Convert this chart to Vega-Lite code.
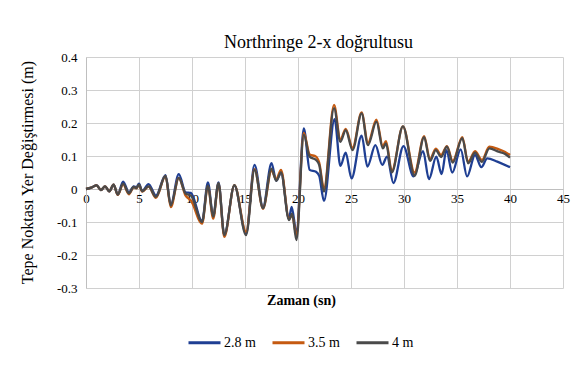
{
  "$schema": "https://vega.github.io/schema/vega-lite/v6.json",
  "autosize": {"type": "none"},
  "width": 477,
  "height": 231,
  "padding": {"left": 86, "top": 57, "right": 19, "bottom": 78},
  "background": "white",
  "title": {
    "text": "Northringe 2-x doğrultusu",
    "font": "Liberation Serif",
    "fontSize": 18,
    "fontWeight": "normal",
    "color": "#000000",
    "anchor": "middle",
    "dx": -6,
    "offset": -1
  },
  "config": {
    "view": {"stroke": null},
    "font": "Liberation Serif",
    "axis": {"labelFont": "Liberation Serif", "titleFont": "Liberation Serif"},
    "legend": {"labelFont": "Liberation Serif"},
    "style": {"guide-label": {"font": "Liberation Serif"}, "guide-title": {"font": "Liberation Serif"}}
  },
  "data": {
    "values": [
      {"t": 0, "v": 0, "s": "2.8 m"}, {"t": 0.5, "v": 0.004, "s": "2.8 m"}, {"t": 1.0, "v": 0.012, "s": "2.8 m"}, {"t": 1.4, "v": -0.003, "s": "2.8 m"}, {"t": 1.8, "v": 0.008, "s": "2.8 m"}, {"t": 2.2, "v": -0.007, "s": "2.8 m"}, {"t": 2.6, "v": 0.013, "s": "2.8 m"}, {"t": 3.0, "v": -0.017, "s": "2.8 m"}, {"t": 3.5, "v": 0.022, "s": "2.8 m"}, {"t": 4.05, "v": -0.01, "s": "2.8 m"}, {"t": 4.5, "v": 0.008, "s": "2.8 m"}, {"t": 4.75, "v": 0.005, "s": "2.8 m"}, {"t": 5.0, "v": 0.016, "s": "2.8 m"}, {"t": 5.3, "v": -0.006, "s": "2.8 m"}, {"t": 5.9, "v": 0.015, "s": "2.8 m"}, {"t": 6.6, "v": -0.02, "s": "2.8 m"}, {"t": 7.5, "v": 0.042, "s": "2.8 m"}, {"t": 8.0, "v": -0.048, "s": "2.8 m"}, {"t": 8.75, "v": 0.045, "s": "2.8 m"}, {"t": 9.4, "v": -0.01, "s": "2.8 m"}, {"t": 9.9, "v": -0.012, "s": "2.8 m"}, {"t": 10.95, "v": -0.098, "s": "2.8 m"}, {"t": 11.5, "v": 0.02, "s": "2.8 m"}, {"t": 12.0, "v": -0.083, "s": "2.8 m"}, {"t": 12.5, "v": 0.02, "s": "2.8 m"}, {"t": 13.05, "v": -0.14, "s": "2.8 m"}, {"t": 14.0, "v": 0.01, "s": "2.8 m"}, {"t": 15.1, "v": -0.135, "s": "2.8 m"}, {"t": 15.9, "v": 0.073, "s": "2.8 m"}, {"t": 16.7, "v": -0.055, "s": "2.8 m"}, {"t": 17.5, "v": 0.078, "s": "2.8 m"}, {"t": 17.95, "v": 0.025, "s": "2.8 m"}, {"t": 18.4, "v": 0.05, "s": "2.8 m"}, {"t": 19.15, "v": -0.09, "s": "2.8 m"}, {"t": 19.4, "v": -0.054, "s": "2.8 m"}, {"t": 19.85, "v": -0.13, "s": "2.8 m"},
      {"t": 20.55, "v": 0.184, "s": "2.8 m"}, {"t": 21.1, "v": 0.058, "s": "2.8 m"}, {"t": 21.7, "v": 0.052, "s": "2.8 m"}, {"t": 22.0, "v": 0.04, "s": "2.8 m"}, {"t": 22.45, "v": -0.036, "s": "2.8 m"}, {"t": 23.45, "v": 0.212, "s": "2.8 m"}, {"t": 24.0, "v": 0.07, "s": "2.8 m"}, {"t": 24.5, "v": 0.11, "s": "2.8 m"}, {"t": 25.05, "v": 0.032, "s": "2.8 m"}, {"t": 26.0, "v": 0.162, "s": "2.8 m"}, {"t": 26.55, "v": 0.068, "s": "2.8 m"}, {"t": 27.3, "v": 0.133, "s": "2.8 m"}, {"t": 27.95, "v": 0.073, "s": "2.8 m"}, {"t": 28.4, "v": 0.098, "s": "2.8 m"}, {"t": 29.0, "v": 0.018, "s": "2.8 m"}, {"t": 29.95, "v": 0.13, "s": "2.8 m"}, {"t": 30.9, "v": 0.038, "s": "2.8 m"}, {"t": 31.8, "v": 0.115, "s": "2.8 m"}, {"t": 32.35, "v": 0.03, "s": "2.8 m"}, {"t": 33.05, "v": 0.098, "s": "2.8 m"}, {"t": 33.55, "v": 0.045, "s": "2.8 m"}, {"t": 34.0, "v": 0.118, "s": "2.8 m"}, {"t": 34.55, "v": 0.05, "s": "2.8 m"}, {"t": 35.35, "v": 0.12, "s": "2.8 m"}, {"t": 35.95, "v": 0.038, "s": "2.8 m"}, {"t": 36.7, "v": 0.103, "s": "2.8 m"}, {"t": 37.3, "v": 0.066, "s": "2.8 m"}, {"t": 37.85, "v": 0.093, "s": "2.8 m"}, {"t": 38.8, "v": 0.083, "s": "2.8 m"}, {"t": 40.0, "v": 0.066, "s": "2.8 m"},

      {"t": 0, "v": 0, "s": "3.5 m"}, {"t": 0.5, "v": 0.004, "s": "3.5 m"}, {"t": 1.0, "v": 0.011, "s": "3.5 m"}, {"t": 1.4, "v": -0.003, "s": "3.5 m"}, {"t": 1.8, "v": 0.008, "s": "3.5 m"}, {"t": 2.2, "v": -0.007, "s": "3.5 m"}, {"t": 2.6, "v": 0.013, "s": "3.5 m"}, {"t": 3.0, "v": -0.018, "s": "3.5 m"}, {"t": 3.5, "v": 0.014, "s": "3.5 m"}, {"t": 4.05, "v": -0.016, "s": "3.5 m"}, {"t": 4.5, "v": 0.005, "s": "3.5 m"}, {"t": 4.75, "v": 0.002, "s": "3.5 m"}, {"t": 5.0, "v": 0.012, "s": "3.5 m"}, {"t": 5.3, "v": -0.008, "s": "3.5 m"}, {"t": 5.9, "v": 0.007, "s": "3.5 m"}, {"t": 6.6, "v": -0.027, "s": "3.5 m"}, {"t": 7.5, "v": 0.039, "s": "3.5 m"}, {"t": 8.0, "v": -0.055, "s": "3.5 m"}, {"t": 8.75, "v": 0.033, "s": "3.5 m"}, {"t": 9.4, "v": -0.02, "s": "3.5 m"}, {"t": 9.9, "v": -0.035, "s": "3.5 m"}, {"t": 10.95, "v": -0.105, "s": "3.5 m"}, {"t": 11.5, "v": 0.008, "s": "3.5 m"}, {"t": 12.0, "v": -0.09, "s": "3.5 m"}, {"t": 12.5, "v": 0.016, "s": "3.5 m"}, {"t": 13.05, "v": -0.145, "s": "3.5 m"}, {"t": 14.0, "v": 0.012, "s": "3.5 m"}, {"t": 15.1, "v": -0.13, "s": "3.5 m"}, {"t": 15.9, "v": 0.06, "s": "3.5 m"}, {"t": 16.7, "v": -0.06, "s": "3.5 m"}, {"t": 17.5, "v": 0.055, "s": "3.5 m"}, {"t": 17.95, "v": 0.03, "s": "3.5 m"}, {"t": 18.4, "v": 0.058, "s": "3.5 m"}, {"t": 19.15, "v": -0.09, "s": "3.5 m"}, {"t": 19.45, "v": -0.08, "s": "3.5 m"}, {"t": 19.85, "v": -0.14, "s": "3.5 m"},
      {"t": 20.55, "v": 0.17, "s": "3.5 m"}, {"t": 21.1, "v": 0.105, "s": "3.5 m"}, {"t": 21.7, "v": 0.098, "s": "3.5 m"}, {"t": 22.0, "v": 0.08, "s": "3.5 m"}, {"t": 22.45, "v": 0.002, "s": "3.5 m"}, {"t": 23.4, "v": 0.255, "s": "3.5 m"}, {"t": 24.0, "v": 0.15, "s": "3.5 m"}, {"t": 24.5, "v": 0.182, "s": "3.5 m"}, {"t": 25.15, "v": 0.125, "s": "3.5 m"}, {"t": 26.0, "v": 0.232, "s": "3.5 m"}, {"t": 26.6, "v": 0.14, "s": "3.5 m"}, {"t": 27.4, "v": 0.21, "s": "3.5 m"}, {"t": 28.0, "v": 0.13, "s": "3.5 m"}, {"t": 28.3, "v": 0.145, "s": "3.5 m"}, {"t": 28.85, "v": 0.055, "s": "3.5 m"}, {"t": 29.9, "v": 0.19, "s": "3.5 m"}, {"t": 31.0, "v": 0.05, "s": "3.5 m"}, {"t": 31.9, "v": 0.16, "s": "3.5 m"}, {"t": 32.45, "v": 0.09, "s": "3.5 m"}, {"t": 33.0, "v": 0.122, "s": "3.5 m"}, {"t": 33.5, "v": 0.103, "s": "3.5 m"}, {"t": 34.05, "v": 0.13, "s": "3.5 m"}, {"t": 34.6, "v": 0.085, "s": "3.5 m"}, {"t": 35.5, "v": 0.157, "s": "3.5 m"}, {"t": 36.05, "v": 0.082, "s": "3.5 m"}, {"t": 36.7, "v": 0.115, "s": "3.5 m"}, {"t": 37.35, "v": 0.088, "s": "3.5 m"}, {"t": 38.05, "v": 0.128, "s": "3.5 m"}, {"t": 38.9, "v": 0.121, "s": "3.5 m"}, {"t": 39.5, "v": 0.113, "s": "3.5 m"}, {"t": 40.0, "v": 0.103, "s": "3.5 m"},

      {"t": 0, "v": 0, "s": "4 m"}, {"t": 0.5, "v": 0.004, "s": "4 m"}, {"t": 1.0, "v": 0.011, "s": "4 m"}, {"t": 1.4, "v": -0.003, "s": "4 m"}, {"t": 1.8, "v": 0.008, "s": "4 m"}, {"t": 2.2, "v": -0.007, "s": "4 m"}, {"t": 2.6, "v": 0.013, "s": "4 m"}, {"t": 3.0, "v": -0.017, "s": "4 m"}, {"t": 3.5, "v": 0.016, "s": "4 m"}, {"t": 4.05, "v": -0.013, "s": "4 m"}, {"t": 4.5, "v": 0.006, "s": "4 m"}, {"t": 4.75, "v": 0.003, "s": "4 m"}, {"t": 5.0, "v": 0.013, "s": "4 m"}, {"t": 5.3, "v": -0.007, "s": "4 m"}, {"t": 5.9, "v": 0.008, "s": "4 m"}, {"t": 6.6, "v": -0.024, "s": "4 m"}, {"t": 7.5, "v": 0.04, "s": "4 m"}, {"t": 8.0, "v": -0.05, "s": "4 m"}, {"t": 8.75, "v": 0.034, "s": "4 m"}, {"t": 9.4, "v": -0.014, "s": "4 m"}, {"t": 9.9, "v": -0.02, "s": "4 m"}, {"t": 10.95, "v": -0.1, "s": "4 m"}, {"t": 11.5, "v": 0.01, "s": "4 m"}, {"t": 12.0, "v": -0.084, "s": "4 m"}, {"t": 12.5, "v": 0.018, "s": "4 m"}, {"t": 13.05, "v": -0.14, "s": "4 m"}, {"t": 14.0, "v": 0.012, "s": "4 m"}, {"t": 15.1, "v": -0.14, "s": "4 m"}, {"t": 15.9, "v": 0.058, "s": "4 m"}, {"t": 16.7, "v": -0.058, "s": "4 m"}, {"t": 17.5, "v": 0.062, "s": "4 m"}, {"t": 17.95, "v": 0.025, "s": "4 m"}, {"t": 18.4, "v": 0.05, "s": "4 m"}, {"t": 19.15, "v": -0.094, "s": "4 m"}, {"t": 19.45, "v": -0.075, "s": "4 m"}, {"t": 19.85, "v": -0.155, "s": "4 m"},
      {"t": 20.55, "v": 0.164, "s": "4 m"}, {"t": 21.1, "v": 0.098, "s": "4 m"}, {"t": 21.7, "v": 0.088, "s": "4 m"}, {"t": 22.0, "v": 0.073, "s": "4 m"}, {"t": 22.45, "v": -0.008, "s": "4 m"}, {"t": 23.4, "v": 0.245, "s": "4 m"}, {"t": 24.0, "v": 0.143, "s": "4 m"}, {"t": 24.5, "v": 0.178, "s": "4 m"}, {"t": 25.15, "v": 0.118, "s": "4 m"}, {"t": 26.0, "v": 0.229, "s": "4 m"}, {"t": 26.6, "v": 0.133, "s": "4 m"}, {"t": 27.4, "v": 0.204, "s": "4 m"}, {"t": 28.0, "v": 0.123, "s": "4 m"}, {"t": 28.3, "v": 0.138, "s": "4 m"}, {"t": 28.85, "v": 0.05, "s": "4 m"}, {"t": 29.9, "v": 0.19, "s": "4 m"}, {"t": 31.0, "v": 0.04, "s": "4 m"}, {"t": 31.9, "v": 0.157, "s": "4 m"}, {"t": 32.45, "v": 0.085, "s": "4 m"}, {"t": 33.0, "v": 0.118, "s": "4 m"}, {"t": 33.5, "v": 0.097, "s": "4 m"}, {"t": 34.05, "v": 0.128, "s": "4 m"}, {"t": 34.6, "v": 0.08, "s": "4 m"}, {"t": 35.5, "v": 0.154, "s": "4 m"}, {"t": 36.05, "v": 0.078, "s": "4 m"}, {"t": 36.7, "v": 0.11, "s": "4 m"}, {"t": 37.35, "v": 0.082, "s": "4 m"}, {"t": 38.05, "v": 0.123, "s": "4 m"}, {"t": 38.9, "v": 0.113, "s": "4 m"}, {"t": 39.5, "v": 0.107, "s": "4 m"}, {"t": 40.0, "v": 0.095, "s": "4 m"}
    ]
  },
  "mark": {"type": "line", "interpolate": "monotone", "strokeWidth": 2.3},
  "encoding": {
    "x": {
      "field": "t",
      "type": "quantitative",
      "scale": {"domain": [0, 45], "nice": false, "zero": false},
      "axis": {
        "values": [0, 5, 10, 15, 20, 25, 30, 35, 40, 45],
        "offset": -99,
        "grid": true,
        "gridColor": "#d0d0d0",
        "gridWidth": 1,
        "domain": true,
        "domainColor": "#bfbfbf",
        "ticks": false,
        "labelPadding": 3,
        "labelFont": "Liberation Serif",
        "labelFontSize": 13,
        "labelColor": "#000000",
        "labelFlush": false,
        "title": "Zaman (sn)",
        "titleFont": "Liberation Serif",
        "titleFontSize": 14,
        "titleFontWeight": "bold",
        "titleColor": "#000000",
        "titleX": 215,
        "titleY": 111,
        "titleAlign": "center",
        "titleBaseline": "middle"
      }
    },
    "y": {
      "field": "v",
      "type": "quantitative",
      "scale": {"domain": [-0.3, 0.4], "nice": false, "zero": false},
      "axis": {
        "values": [-0.3, -0.2, -0.1, 0, 0.1, 0.2, 0.3, 0.4],
        "format": ".1~f",
        "labelExpr": "replace(datum.label, '−', '-')",
        "grid": true,
        "gridColor": "#d0d0d0",
        "gridWidth": 1,
        "domain": true,
        "domainColor": "#bfbfbf",
        "ticks": false,
        "labelPadding": 9,
        "labelFont": "Liberation Serif",
        "labelFontSize": 13,
        "labelColor": "#000000",
        "labelFlush": false,
        "title": "Tepe Noktası Yer Değiştirmesi (m)",
        "titleFont": "Liberation Serif",
        "titleFontSize": 16,
        "titleFontWeight": "normal",
        "titleColor": "#000000",
        "titleAngle": -90,
        "titleX": -59,
        "titleY": 115,
        "titleAlign": "center",
        "titleBaseline": "middle"
      }
    },
    "color": {
      "field": "s",
      "type": "nominal",
      "scale": {"domain": ["2.8 m", "3.5 m", "4 m"], "range": ["#1f3f93", "#c55a11", "#4a4a4a"]},
      "legend": {
        "title": null,
        "orient": "none",
        "direction": "horizontal",
        "legendX": 101,
        "legendY": 268,
        "symbolType": "stroke",
        "symbolSize": 1024,
        "symbolStrokeWidth": 3,
        "labelFont": "Liberation Serif",
        "labelFontSize": 14,
        "labelColor": "#000000",
        "labelOffset": 2,
        "columnPadding": 10
      }
    }
  }
}
